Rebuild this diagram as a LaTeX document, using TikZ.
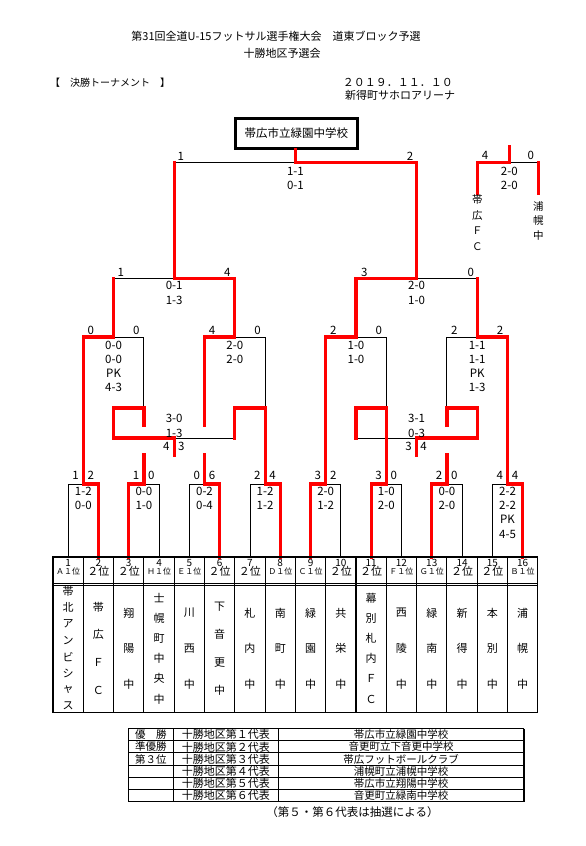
\documentclass[tikz,border=0pt]{standalone}
\usepackage{fontspec}
\setmainfont{Noto Sans CJK JP}
\usetikzlibrary{calc}

\tikzset{
  win/.style={draw=red, line width=3.2pt, line cap=rect},
  lose/.style={draw=black, line width=0.9pt},
  score/.style={inner sep=0pt, font=\fontsize{11.5}{12}\selectfont},
  title/.style={inner sep=0pt, font=\fontsize{11}{12}\selectfont},
  grid/.style={draw=black, line width=1.1pt},
  cell/.style={inner sep=0pt, font=\fontsize{10.5}{11}\selectfont},
  num/.style={inner sep=0pt, font=\fontsize{10}{11}\selectfont},
  rkone/.style={inner sep=0pt, font=\fontsize{8}{9}\selectfont},
  rktwo/.style={inner sep=0pt, font=\fontsize{11}{12}\selectfont},
  champ/.style={draw, line width=3.5pt, minimum width=122pt, minimum height=30pt,
    inner sep=0pt, font=\fontsize{11.5}{12}\selectfont},
}

\begin{document}
\begin{tikzpicture}[x=1pt,y=-1pt]
  \useasboundingbox (0,0) rectangle (586,846);

  % --- headings
  \node[title] (head1) at (276,36.7) {第31回全道U-15フットサル選手権大会　道東ブロック予選};
  \node[title] (head2) at (282,53.3) {十勝地区予選会};
  \node[title, font=\fontsize{10}{11}\selectfont, anchor=west] (stage) at (50,82.7) {【　決勝トーナメント　】};
  \node[title, anchor=west] (date) at (342.7,82.7) {２０１９．１１．１０};
  \node[title, anchor=west] (venue) at (345,95) {新得町サホロアリーナ};

  % --- champion box
  \node[champ] (champ) at (296.3,133.3) {帯広市立緑園中学校};

  % --- bracket points (teams, rounds, consolation levels)
  \foreach \i in {1,...,16} \coordinate (t\i) at ({53+30.3*(\i-0.5)},557);
  \foreach \k in {1,...,8} \coordinate (m\k) at ({53+30.3*(2*\k-1)},484);
  \foreach \k in {1,...,4} \coordinate (q\k) at ({53+30.3*(4*\k-2)},337);
  \coordinate (s1) at ({53+30.3*4},278.5);
  \coordinate (s2) at ({53+30.3*12},278.5);
  \coordinate (f) at ({53+30.3*8},162.7);
  \coordinate (hi) at (0,408);
  \coordinate (lo) at (0,438);
  \coordinate (gt) at (0,425);
  \coordinate (gb) at (0,455);
  \coordinate (cl) at (s1 |- lo);
  \coordinate (cr) at (s2 |- lo);

  % --- first round
  \foreach \l/\w/\k in {1/2/1, 4/3/2, 5/6/3, 7/8/4, 10/9/5, 12/11/6, 14/13/7, 15/16/8} {
    \draw[lose] (t\l) |- (m\k);
    \draw[win] (t\w) |- (m\k);
  }

  % --- black (lost) parts above the first round
  \draw[lose] (m2 |- hi) |- (q1);
  \draw[lose] (m4 |- hi) |- (q2);
  \draw[lose] (m6 |- hi) |- (q3);
  \draw[lose] (m7 |- hi) |- (q4);
  \draw[lose] (q2 |- lo) -- (cl);
  \draw[lose] (q3 |- lo) -- (cr);
  \draw[lose] (q1 |- s1) -- (s1);
  \draw[lose] (q4 |- s2) -- (s2);
  \draw[lose] (s1 |- f) -- (f);

  % --- left half (red)
  \draw[win] (m1) |- (q1) -- (q1 |- s1);
  \draw[win] (m2) -- (m2 |- gb);
  \draw[win] (m2 |- gt) -- (m2 |- hi) -| (q1 |- lo) -- (cl) -- (cl |- gb);
  \draw[win] (m3) -- (m3 |- gb);
  \draw[win] (m3 |- gt) |- (q2) |- (s1) -- (s1 |- f);
  \draw[win] (m4) -- (m4 |- hi) -| (q2 |- lo);

  % --- right half (red)
  \draw[win] (m5) |- (q3) |- (s2) |- (f) -- (f |- champ.south);
  \draw[win] (m6) -- (m6 |- hi) -| (q3 |- lo);
  \draw[win] (m8) |- (q4) -- (q4 |- s2);
  \draw[win] (m7) -- (m7 |- gb);
  \draw[win] (m7 |- gt) -- (m7 |- hi) -| (q4 |- lo) -- (cr) -- (cr |- gb);

  % --- third place match
  \coordinate (p) at (509.3,162.7);
  \coordinate (ptop) at (509.3,146.7);
  \coordinate (pl) at (477.3,193);
  \coordinate (pr) at (538.3,193);
  \draw[lose] (p) -- (pr |- p);
  \draw[win] (pr) -- (pr |- p);
  \draw[win] (pl) |- (p) -- (ptop);
  \foreach \c [count=\j] in {帯,広,Ｆ,Ｃ}
    \node[cell] (fc\j) at (477.3,{200+15.5*(\j-1)}) {\c};
  \foreach \c [count=\j] in {浦,幌,中}
    \node[cell] (ur\j) at (538.3,{206.7+14.3*(\j-1)}) {\c};
  \node[score] (pa) at ($(pl |- p)+(7.7,-7.7)$) {4};
  \node[score] (pb) at ($(pr |- p)+(-7.6,-7.7)$) {0};
  \node[score] (pc) at ($(p)+(0,9)$) {2-0};
  \node[score] (pd) at ($(p)+(0,22.3)$) {2-0};

  % --- scores: first round
  \foreach \k/\a/\b/\x/\y in {1/1/2/1-2/0-0, 2/1/0/0-0/1-0, 3/0/6/0-2/0-4, 4/2/4/1-2/1-2,
                              5/3/2/2-0/1-2, 6/3/0/1-0/2-0, 7/2/0/0-0/2-0, 8/4/4/2-2/2-2} {
    \node[score] (ra\k) at ($(m\k)+(-7.8,-9)$) {\a};
    \node[score] (rb\k) at ($(m\k)+(7.5,-9)$) {\b};
    \node[score] (rc\k) at ($(m\k)+(0,7.7)$) {\x};
    \node[score] (rd\k) at ($(m\k)+(0,21)$) {\y};
  }
  \node[score] (re8) at ($(m8)+(0,35.7)$) {PK};
  \node[score] (rf8) at ($(m8)+(0,50)$) {4-5};

  % --- scores: quarter finals
  \foreach \k/\l/\r/\a/\b/\x/\y in {1/1/2/0/0/0-0/0-0, 2/3/4/4/0/2-0/2-0,
                                    3/5/6/2/0/1-0/1-0, 4/7/8/2/2/1-1/1-1} {
    \node[score] (qa\k) at ($(m\l |- q\k)+(7.5,-7)$) {\a};
    \node[score] (qb\k) at ($(m\r |- q\k)+(-7.5,-7)$) {\b};
    \node[score] (qc\k) at ($(q\k)+(0,8)$) {\x};
    \node[score] (qd\k) at ($(q\k)+(0,22)$) {\y};
  }
  \node[score] (qe1) at ($(q1)+(0,36.3)$) {PK};
  \node[score] (qf1) at ($(q1)+(0,50.7)$) {4-3};
  \node[score] (qe4) at ($(q4)+(0,36.3)$) {PK};
  \node[score] (qf4) at ($(q4)+(0,50.7)$) {1-3};

  % --- scores: consolation
  \node[score] (cla) at ($(cl)+(0,-20)$) {3-0};
  \node[score] (clb) at ($(cl)+(0,-5)$) {1-3};
  \node[score] (clc) at ($(cl)+(-8,8.7)$) {4};
  \node[score] (cld) at ($(cl)+(7,8.7)$) {3};
  \node[score] (cra) at ($(cr)+(0,-20)$) {3-1};
  \node[score] (crb) at ($(cr)+(0,-5)$) {0-3};
  \node[score] (crc) at ($(cr)+(-8,8.7)$) {3};
  \node[score] (crd) at ($(cr)+(7,8.7)$) {4};

  % --- scores: semi finals and final
  \node[score] (sa1) at ($(q1 |- s1)+(7.1,-5.8)$) {1};
  \node[score] (sb1) at ($(q2 |- s1)+(-7.5,-5.8)$) {4};
  \node[score] (sc1) at ($(s1)+(0,6.5)$) {0-1};
  \node[score] (sd1) at ($(s1)+(0,22.2)$) {1-3};
  \node[score] (sa2) at ($(q3 |- s2)+(8.3,-5.8)$) {3};
  \node[score] (sb2) at ($(q4 |- s2)+(-6.5,-5.8)$) {0};
  \node[score] (sc2) at ($(s2)+(0,6.5)$) {2-0};
  \node[score] (sd2) at ($(s2)+(0,22.2)$) {1-0};
  \node[score] (fa) at ($(s1 |- f)+(6.5,-6)$) {1};
  \node[score] (fb) at ($(s2 |- f)+(-6.6,-6)$) {2};
  \node[score] (fc) at ($(f)+(0,9)$) {1-1};
  \node[score] (fd) at ($(f)+(0,22.3)$) {0-1};

  % --- team table
  \draw[grid] (53,557) rectangle (537.8,712.3);
  \draw[grid] (53,583.3) -- (537.8,583.3);
  \draw[grid] (53,585.7) -- (537.8,585.7);
  \foreach \i in {1,...,15} \draw[grid] ({53+30.3*\i},557) -- ({53+30.3*\i},712.3);
  \foreach \i in {1,...,16} \node[num] (no\i) at ({53+30.3*(\i-0.5)},562.5) {\i};
  \foreach \i/\g in {1/Ａ, 4/Ｈ, 5/Ｅ, 8/Ｄ, 9/Ｃ, 12/Ｆ, 13/Ｇ, 16/Ｂ}
    \node[rkone] (rk\i) at ({53+30.3*(\i-0.5)},571.5) {\g１位};
  \foreach \i in {2,3,6,7,10,11,14,15}
    \node[rktwo] (rk\i) at ({53+30.3*(\i-0.5)},571.5) {２位};

  % team names, stacked
  \foreach \i/\n/\s/\nm in {1/8/16.4/{帯,北,ア,ン,ビ,シ,ャ,ス}, 2/4/27.7/{帯,広,Ｆ,Ｃ},
      3/3/35.5/{翔,陽,中}, 4/6/20.2/{士,幌,町,中,央,中}, 5/3/35.5/{川,西,中},
      6/4/27.7/{下,音,更,中}, 7/3/35.5/{札,内,中}, 8/3/35.5/{南,町,中},
      9/3/35.5/{緑,園,中}, 10/3/35.5/{共,栄,中}, 11/6/20.2/{幕,別,札,内,Ｆ,Ｃ},
      12/3/35.5/{西,陵,中}, 13/3/35.5/{緑,南,中}, 14/3/35.5/{新,得,中},
      15/3/35.5/{本,別,中}, 16/3/35.5/{浦,幌,中}}
    \foreach \c [count=\j] in \nm
      \node[cell, font=\fontsize{11}{12}\selectfont] (nm\i-\j)
        at ({53+30.3*(\i-0.5)},{648.5+(\j-(\n+1)/2)*\s}) {\c};

  % --- result table
  \foreach \j in {0,...,6} \draw[grid] (128.3,{728.5+12.2*\j}) -- (524,{728.5+12.2*\j});
  \foreach \x in {128.3,173.3,278.3,524} \draw[grid] (\x,728.5) -- (\x,801.7);
  \foreach \j/\a/\b/\c in {1/優　勝/十勝地区第１代表/帯広市立緑園中学校,
      2/準優勝/十勝地区第２代表/音更町立下音更中学校,
      3/第３位/十勝地区第３代表/帯広フットボールクラブ,
      4//十勝地区第４代表/浦幌町立浦幌中学校,
      5//十勝地区第５代表/帯広市立翔陽中学校,
      6//十勝地区第６代表/音更町立緑南中学校} {
    \node[cell] (pos\j) at (150.8,{728.5+12.2*(\j-0.5)}) {\a};
    \node[cell, font=\fontsize{11}{12}\selectfont] (rep\j) at (225.8,{728.5+12.2*(\j-0.5)}) {\b};
    \node[cell] (sch\j) at (401.2,{728.5+12.2*(\j-0.5)}) {\c};
  }
  \node[cell, font=\fontsize{11.5}{12}\selectfont] (note) at (352.5,811.7) {（第５・第６代表は抽選による）};
\end{tikzpicture}
\end{document}
